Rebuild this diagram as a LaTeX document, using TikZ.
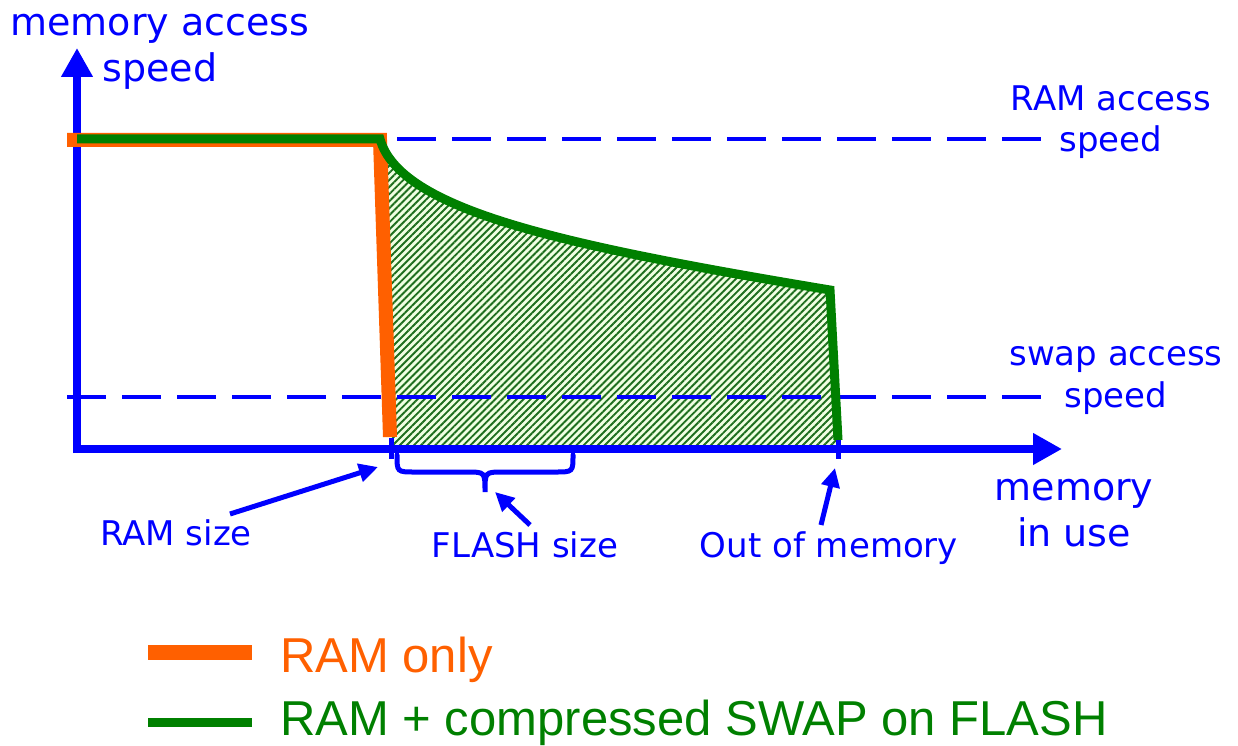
\documentclass[tikz,border=0pt]{standalone}
\usepackage{fontspec}
\setmainfont{DejaVu Sans}
\newfontfamily\legendfont{Liberation Sans}
\usetikzlibrary{arrows.meta,patterns.meta}
\definecolor{axisblue}{RGB}{0,0,255}
\definecolor{ramorange}{RGB}{255,96,0}
\definecolor{swapgreen}{RGB}{0,128,0}
\definecolor{hatchbg}{RGB}{240,255,226}
\definecolor{hatchline}{RGB}{30,110,30}

\begin{document}
\begin{tikzpicture}[x=1pt,y=-1pt,
  axis/.style={axisblue,line width=8pt,-{Triangle[length=29pt,width=30pt]}},
  level/.style={axisblue,line width=4pt,dash pattern=on 39pt off 16pt},
  tickmark/.style={axisblue,line width=5pt},
  ptr/.style={axisblue,line width=5pt,-{Triangle[length=19pt,width=18pt]}},
  lbl/.style={text=axisblue,inner sep=0pt,anchor=base,align=center,
    font=\fontsize{34pt}{41pt}\selectfont},
  biglbl/.style={lbl,font=\fontsize{38pt}{46pt}\selectfont},
  ramcurve/.style={ramorange,line width=14pt},
  swapcurve/.style={swapgreen,line width=9pt},
  legtext/.style={inner sep=0pt,anchor=base west,
    font=\legendfont\fontsize{49pt}{56pt}\selectfont}
]
\useasboundingbox (0,0) rectangle (1238,746);

% region gained by compressed swap
\fill[hatchbg] (380,140) .. controls (400,210) and (560,245) .. (830,290)
  -- (838,445) -- (390,445) -- cycle;
\fill[pattern={Lines[angle=45,distance=5pt,line width=1.9pt]},pattern color=hatchline]
  (380,140) .. controls (400,210) and (560,245) .. (830,290)
  -- (838,445) -- (390,445) -- cycle;

% axes
\draw[axis] (77,453) -- (77,48);
\draw[axis] (73,449) -- (1062,449);

% reference speed levels
\draw[level] (397,139) -- (1041,139);
\draw[level] (67,397) -- (1041,397);

% speed curves
\draw[ramcurve] (67,140) -- (380,140) -- (390,437);
\draw[swapcurve] (77,139) -- (380,139) .. controls (400,210) and (560,245) .. (830,290) -- (838,440);

% ticks on the memory axis
\draw[tickmark] (391,438) -- (391,459);
\draw[tickmark] (838,440) -- (838,459);

% brace under the flash range
\draw[axisblue,line width=5pt,line cap=round]
  (397,455) .. controls (397,472) .. (415,472) -- (467,472)
  .. controls (485,472) .. (485,492)
  .. controls (485,472) .. (503,472) -- (555,472)
  .. controls (573,472) .. (573,455);

% labels (base anchor sits on the last line)
\node[biglbl] (ylabel) at (160,82) {memory access\\speed};
\node[lbl] (ramlevel) at (1111,152) {RAM access\\speed};
\node[lbl] (swaplevel) at (1116,407) {swap access\\[1pt]speed};
\node[biglbl] (xlabel) at (1074,546) {memory\\in use};
\node[lbl] (ramsize) at (176,545) {RAM size};
\node[lbl] (flashsize) at (525,557) {FLASH size};
\node[lbl] (oom) at (829,557) {Out of memory};

% pointers
\coordinate (ramtail) at (230,514);
\coordinate (ramtip) at (378,467);
\coordinate (flashtail) at (530,525);
\coordinate (flashtip) at (495,492);
\coordinate (oomtail) at (821,525);
\coordinate (oomtip) at (835,468);
\draw[ptr] (ramtail) -- (ramtip);
\draw[ptr] (flashtail) -- (flashtip);
\draw[ptr] (oomtail) -- (oomtip);

% legend
\draw[ramorange,line width=15pt] (148,652) -- (252,652);
\draw[swapgreen,line width=9pt] (148,722) -- (252,722);
\node[legtext,text=ramorange] (legram) at (280,672) {RAM only};
\node[legtext,text=swapgreen] (legswap) at (280,735) {RAM + compressed SWAP on FLASH};
\end{tikzpicture}
\end{document}
